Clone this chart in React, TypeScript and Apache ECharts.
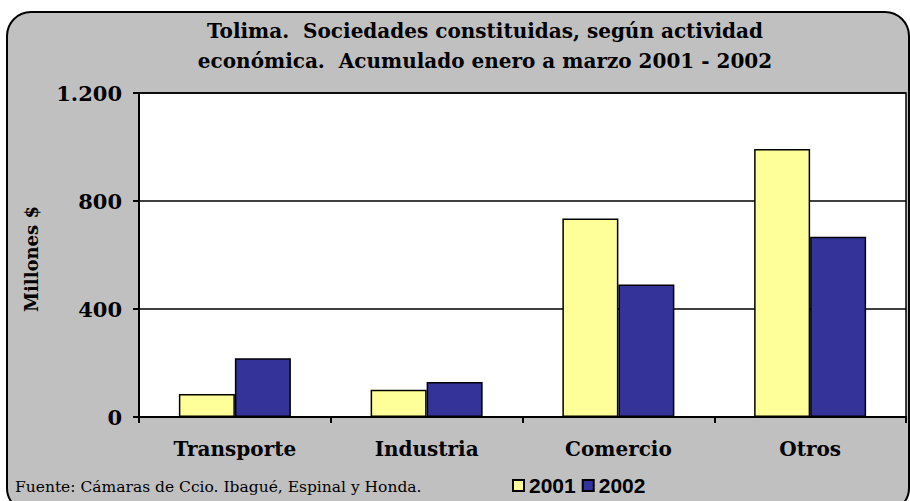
import React, { useEffect, useRef } from "react";
import * as echarts from "echarts";

const categories = ["Transporte", "Industria", "Comercio", "Otros"];
const series2001 = [85, 101, 735, 993];
const series2002 = [218, 130, 491, 668];
const seriesNames = ["2001", "2002"];
const titleLines = [
  "Tolima.  Sociedades constituidas, según actividad",
  "económica.  Acumulado enero a marzo 2001 - 2002",
];
const yAxisName = "Millones $";
const sourceText = "Fuente: Cámaras de Ccio. Ibagué, Espinal y Honda.";

const SERIF = "'DejaVu Serif', serif";

export default function App() {
  const ref = useRef<HTMLDivElement>(null);
  useEffect(() => {
    if (!ref.current) return;
    const chart = echarts.init(ref.current, null, { renderer: "svg" });
    chart.setOption({
      animation: false,
      backgroundColor: "#ffffff",
      graphic: [
        {
          type: "rect",
          z: -10,
          silent: true,
          shape: { x: 7, y: 12, width: 902, height: 500, r: 24 },
          style: { fill: "#c0c0c0", stroke: "#000", lineWidth: 2 },
        },
        {
          type: "text",
          x: 485,
          y: 31,
          style: {
            text: titleLines[0],
            font: `bold 20px ${SERIF}`,
            fill: "#000",
            textAlign: "center",
            textVerticalAlign: "middle",
          },
        },
        {
          type: "text",
          x: 485,
          y: 61,
          style: {
            text: titleLines[1],
            font: `bold 20px ${SERIF}`,
            fill: "#000",
            textAlign: "center",
            textVerticalAlign: "middle",
          },
        },
        {
          type: "text",
          x: 15,
          y: 487,
          style: {
            text: sourceText,
            font: `15.5px ${SERIF}`,
            fill: "#000",
            textVerticalAlign: "middle",
          },
        },
        {
          type: "text",
          x: 31,
          y: 259,
          rotation: Math.PI / 2,
          style: {
            text: yAxisName,
            font: `bold 18px ${SERIF}`,
            fill: "#000",
            textAlign: "center",
            textVerticalAlign: "middle",
          },
        },
      ],
      legend: {
        left: 507,
        top: 470,
        icon: "rect",
        itemWidth: 11,
        itemHeight: 11,
        itemGap: 6,
        textStyle: {
          fontFamily: "'Liberation Sans', Arial, sans-serif",
          fontWeight: "bold",
          fontSize: 21,
          color: "#000",
          padding: [0, 0, 0, 0],
        },
        data: seriesNames,
      },
      grid: {
        left: 139,
        top: 93,
        right: 4,
        bottom: 84,
        show: true,
        backgroundColor: "#ffffff",
        borderColor: "#000",
        borderWidth: 1.5,
      },
      xAxis: {
        type: "category",
        data: categories,
        axisLine: { lineStyle: { color: "#000", width: 2 } },
        axisTick: { show: true, length: 6, lineStyle: { color: "#000", width: 2 } },
        axisLabel: {
          margin: 22,
          fontFamily: SERIF,
          fontWeight: "bold",
          fontSize: 20,
          color: "#000",
        },
      },
      yAxis: {
        type: "value",
        min: 0,
        max: 1200,
        interval: 400,
        axisLine: { show: true, lineStyle: { color: "#000", width: 2 } },
        axisTick: { show: true, length: 6, lineStyle: { color: "#000", width: 2 } },
        splitLine: { show: true, lineStyle: { color: "#000", width: 1.5 } },
        axisLabel: {
          margin: 17,
          fontFamily: SERIF,
          fontWeight: "bold",
          fontSize: 21,
          color: "#000",
          formatter: (v: number) => v.toLocaleString("de-DE"),
        },
      },
      series: [
        {
          name: seriesNames[0],
          type: "bar",
          data: series2001,
          barWidth: 56,
          barGap: "0%",
          itemStyle: { color: "#ffff99", borderColor: "#000", borderWidth: 1.5 },
        },
        {
          name: seriesNames[1],
          type: "bar",
          data: series2002,
          barWidth: 56,
          barGap: "0%",
          itemStyle: { color: "#333399", borderColor: "#000", borderWidth: 1.5 },
        },
      ],
    });
    return () => chart.dispose();
  }, []);
  return (
    <div
      ref={ref}
      style={{ position: "fixed", left: 0, top: 0, width: 910, height: 501 }}
    />
  );
}
